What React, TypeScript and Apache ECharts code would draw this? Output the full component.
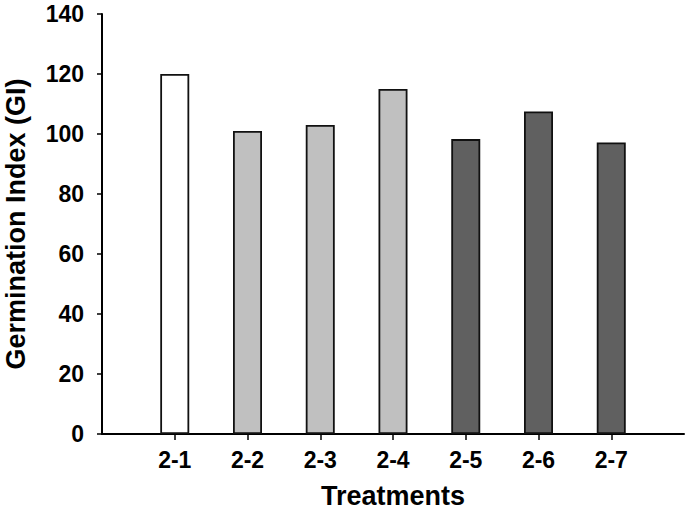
import React, { useEffect, useRef } from "react";
import * as echarts from "echarts";

const categories = ["2-1", "2-2", "2-3", "2-4", "2-5", "2-6", "2-7"];
const giValues = [120, 101, 103, 115, 98.3, 107.5, 97.2];
const barColors = ["#ffffff", "#c0c0c0", "#c0c0c0", "#c0c0c0", "#606060", "#606060", "#606060"];
const yTicks = { min: 0, max: 140, interval: 20 };

export default function App() {
  const ref = useRef<HTMLDivElement>(null);
  useEffect(() => {
    if (!ref.current) return;
    const chart = echarts.init(ref.current, null, { renderer: "svg" });
    const axisData = ["", ...categories, ""];
    const seriesData: any[] = ["-", ...giValues.map((v, i) => ({ value: v, itemStyle: { color: barColors[i] } })), "-"];
    const font = "'Liberation Sans', Arial, sans-serif";
    chart.setOption({
      animation: false,
      backgroundColor: "#ffffff",
      grid: { left: 102, right: 1, top: 14, bottom: 83, containLabel: false, outerBoundsMode: "none" },
      xAxis: {
        type: "category",
        data: axisData,
        boundaryGap: false,
        name: "Treatments",
        nameLocation: "middle",
        nameGap: 48,
        nameTextStyle: { fontFamily: font, fontWeight: "bold", fontSize: 27, color: "#000" },
        axisLine: { lineStyle: { color: "#000", width: 2 } },
        axisTick: {
          show: true,
          inside: false,
          length: 6,
          interval: (index: number) => index > 0 && index < axisData.length - 1,
          lineStyle: { color: "#000", width: 1.5 },
        },
        axisLabel: {
          interval: 0,
          margin: 14,
          fontFamily: font,
          fontWeight: "bold",
          fontSize: 23,
          color: "#000",
        },
        splitLine: { show: false },
      },
      yAxis: {
        type: "value",
        min: yTicks.min,
        max: yTicks.max,
        interval: yTicks.interval,
        name: "Germination Index (GI)",
        nameLocation: "middle",
        nameGap: 73,
        nameTextStyle: { fontFamily: font, fontWeight: "bold", fontSize: 27, color: "#000" },
        axisLine: { show: true, lineStyle: { color: "#000", width: 2 } },
        axisTick: { show: true, inside: false, length: 5, lineStyle: { color: "#000", width: 1.5 } },
        axisLabel: {
          margin: 18,
          fontFamily: font,
          fontWeight: "bold",
          fontSize: 23,
          color: "#000",
        },
        splitLine: { show: false },
      },
      series: [
        {
          type: "bar",
          data: seriesData,
          barWidth: 29,
          itemStyle: { borderColor: "#111", borderWidth: 1.8 },
        },
      ],
    });
    return () => chart.dispose();
  }, []);
  return (
    <div
      ref={ref}
      style={{ position: "fixed", left: 0, top: 0, width: 685, height: 517, background: "#fff" }}
    />
  );
}
